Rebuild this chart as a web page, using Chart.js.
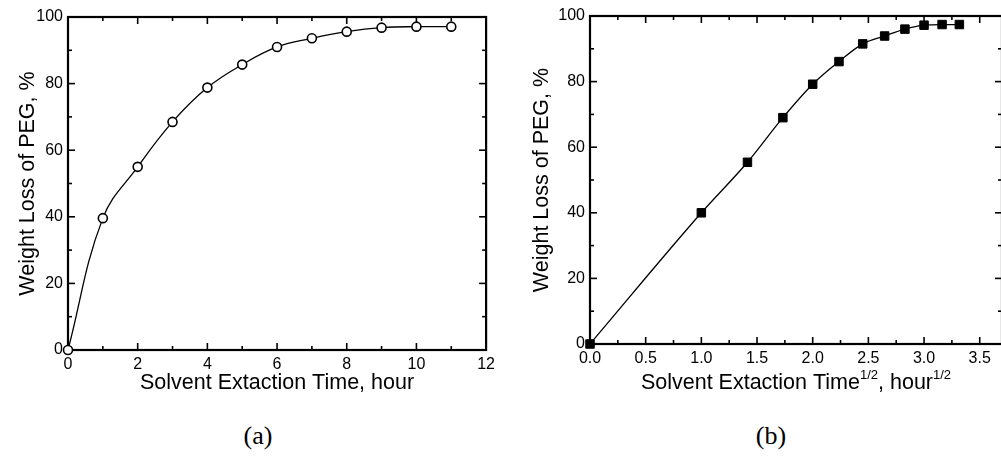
<!DOCTYPE html>
<html>
<head>
<meta charset="utf-8">
<script src="https://cdn.jsdelivr.net/npm/chart.js@4"></script>
<style>
body { margin: 0; width: 1001px; height: 463px; overflow: hidden; background: #fff; position: relative; }
#wrapA { position: absolute; left: 0; top: 0; }
#wrapB { position: absolute; left: 500px; top: 0; }
.cap { position: absolute; top: 421px; font-family: "Liberation Serif", "Times New Roman", serif; font-size: 26px; color: #000; transform: translateX(-50%); }
</style>
</head>
<body>
<div id="wrapA"><canvas id="chartA" width="500" height="400"></canvas></div>
<div id="wrapB"><canvas id="chartB" width="520" height="400"></canvas></div>
<div class="cap" style="left:258px">(a)</div>
<div class="cap" style="left:771px">(b)</div>
<script>
// data
var hours = [0, 1, 2, 3, 4, 5, 6, 7, 8, 9, 10, 11]
var rootHours = [0, 1, 1.414, 1.732, 2, 2.236, 2.449, 2.646, 2.828, 3, 3.162, 3.317]
var lossA = [0, 39.6, 55, 68.5, 78.8, 85.7, 91, 93.6, 95.6, 96.8, 97.1, 97.1]
var lossB = [0, 40, 55.4, 69, 79.2, 86.1, 91.5, 93.9, 96, 97.2, 97.4, 97.4]

var yTitle = 'Weight Loss of PEG, %'
var xTitleA = [{t: 'Solvent Extaction Time, hour'}]
var xTitleB = [{t: 'Solvent Extaction Time'}, {t: '1/2', sup: true}, {t: ', hour'}, {t: '1/2', sup: true}]

var FONT = '"Liberation Sans", Arial, sans-serif'

// frame + inward ticks on all four sides, and the axis titles
const frameTicks = {
    id: 'frameTicks',
    beforeDatasetsDraw(chart, args, opts) {
        const ctx = chart.ctx
        const a = chart.chartArea
        const x = chart.scales.x, y = chart.scales.y
        ctx.save()
        ctx.strokeStyle = '#000'
        ctx.lineWidth = 1.6
        const line = (x1, y1, x2, y2) => {
            ctx.beginPath(); ctx.moveTo(x1, y1); ctx.lineTo(x2, y2); ctx.stroke()
        }
        const isMajor = (v, step) => Math.abs(v / step - Math.round(v / step)) < 1e-6
        for (let i = 0; x.min + i * opts.xMinor <= x.max + 1e-9; i++) {
            const v = x.min + i * opts.xMinor
            const len = isMajor(v, opts.xMajor) ? 7 : 4
            const px = x.getPixelForValue(v)
            line(px, a.bottom, px, a.bottom - len)
            line(px, a.top, px, a.top + len)
        }
        for (let i = 0; y.min + i * opts.yMinor <= y.max + 1e-9; i++) {
            const v = y.min + i * opts.yMinor
            const len = isMajor(v, opts.yMajor) ? 7 : 4
            const py = y.getPixelForValue(v)
            line(a.left, py, a.left + len, py)
            line(a.right, py, a.right - len, py)
        }
        ctx.lineWidth = 2.2
        ctx.strokeRect(a.left, a.top, a.right - a.left, a.bottom - a.top)
        ctx.restore()
    },
    afterDraw(chart, args, opts) {
        const ctx = chart.ctx
        const a = chart.chartArea
        ctx.save()
        ctx.fillStyle = '#000'
        ctx.textBaseline = 'middle'
        // y title, rotated
        ctx.font = '21.5px ' + FONT
        ctx.translate(opts.yTitleX, (a.top + a.bottom) / 2)
        ctx.rotate(-Math.PI / 2)
        ctx.textAlign = 'center'
        ctx.fillText(opts.yTitle, 0, 0)
        ctx.setTransform(1, 0, 0, 1, 0, 0)
        // x title, with superscripts
        ctx.textAlign = 'left'
        const parts = opts.xTitle
        let total = 0
        for (const p of parts) {
            ctx.font = (p.sup ? '13px ' : '21.5px ') + FONT
            p.w = ctx.measureText(p.t).width
            total += p.w
        }
        let cx = (a.left + a.right) / 2 - total / 2
        for (const p of parts) {
            ctx.font = (p.sup ? '13px ' : '21.5px ') + FONT
            ctx.fillText(p.t, cx, opts.xTitleY + (p.sup ? -8 : 0))
            cx += p.w
        }
        ctx.restore()
    }
}

function scaleOpts(min, max, step, fit, fmt) {
    const s = {
        type: 'linear',
        min: min,
        max: max,
        ticks: {
            stepSize: step,
            includeBounds: false,
            padding: 5,
            color: '#000',
            font: {family: FONT, size: 16}
        },
        grid: {display: false, drawTicks: false},
        border: {display: false},
        afterFit: fit
    }
    if (fmt) s.ticks.callback = fmt
    return s
}

function makeChart(id, xs, ys, point, o) {
    const pts = xs.map((v, i) => ({x: v, y: ys[i]}))
    return new Chart(document.getElementById(id).getContext('2d'), {
        type: 'scatter',
        data: {
            datasets: [{
                data: pts,
                showLine: true,
                cubicInterpolationMode: o.interp,
                tension: 0.4,
                borderColor: '#000',
                borderWidth: 1.3,
                pointStyle: point.style,
                pointRadius: point.r,
                pointBorderWidth: point.bw,
                pointBorderColor: '#000',
                pointBackgroundColor: point.fill,
                clip: false
            }]
        },
        options: {
            responsive: false,
            animation: false,
            layout: {padding: {top: o.top, right: o.right, left: 0, bottom: 0}},
            plugins: {
                legend: {display: false},
                tooltip: {enabled: false},
                frameTicks: o.frame
            },
            scales: {
                x: scaleOpts(o.xmin, o.xmax, o.xstep, s => { s.height = o.xh }, o.xfmt),
                y: scaleOpts(0, 100, 20, s => { s.width = o.yw })
            }
        },
        plugins: [frameTicks]
    })
}

function initCharts() {
    makeChart('chartA', hours, lossA, {style: 'circle', r: 4.5, bw: 1.6, fill: '#fff'}, {
        top: 17, right: 12, xh: 50, yw: 68, interp: 'default',
        xmin: 0, xmax: 12, xstep: 2,
        frame: {xMajor: 2, xMinor: 1, yMajor: 20, yMinor: 10, yTitle: yTitle, yTitleX: 28, xTitle: xTitleA, xTitleY: 383}
    })
    makeChart('chartB', rootHours, lossB, {style: 'rect', r: 6, bw: 1, fill: '#000'}, {
        top: 16, right: 18, xh: 56, yw: 90, interp: 'monotone',
        xmin: 0, xmax: 3.7, xstep: 0.5, xfmt: v => v.toFixed(1),
        frame: {xMajor: 0.5, xMinor: 0.25, yMajor: 20, yMinor: 10, yTitle: yTitle, yTitleX: 42, xTitle: xTitleB, xTitleY: 383}
    })
}

document.addEventListener('DOMContentLoaded', initCharts)
</script>
</body>
</html>
